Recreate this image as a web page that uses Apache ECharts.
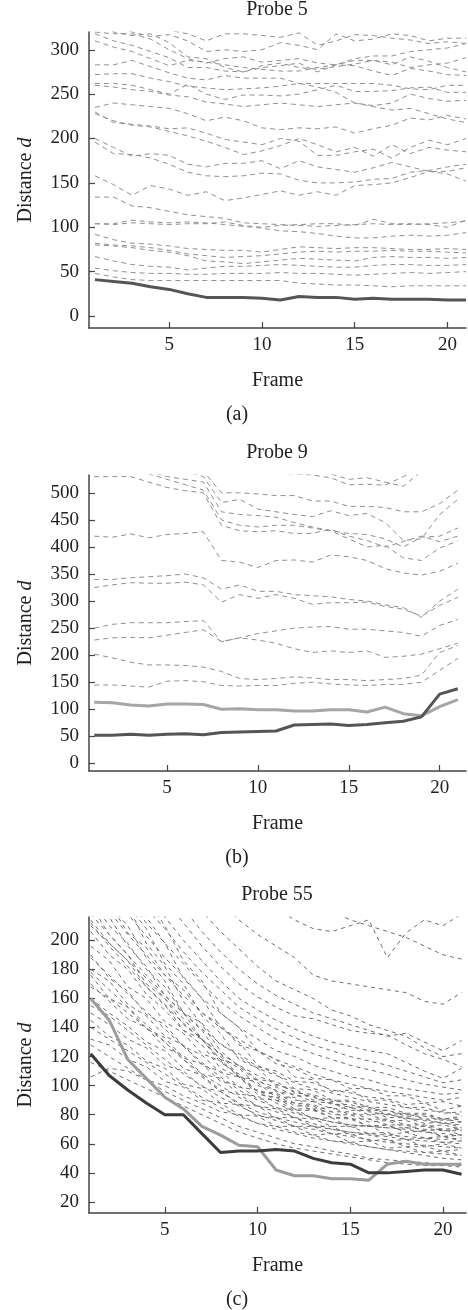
<!DOCTYPE html>
<html>
<head>
<meta charset="utf-8">
<script src="https://cdn.jsdelivr.net/npm/echarts@6/dist/echarts.min.js"></script>
<style>
html, body { margin: 0; padding: 0; background: #fff; }
#main { width: 468px; height: 1310px; }
</style>
</head>
<body>
<div id="main"></div>
<script>
// frames on the x axis, shared by the three probes
let frames = [1,2,3,4,5,6,7,8,9,10,11,12,13,14,15,16,17,18,19,20,21];

// ---- Probe 5 ----
let probe5Ticks = [0,50,100,150,200,250,300];
let probe5Best = [41,39,37,33,30,25,21,21,21,20,18,22,21,21,19,20,19,19,19,18,18];
let probe5Others = [
  [48,44,41,40,40,40,40,40,40,40,40,37,36,35,35,34,33,34,34,34,34],
  [54,51,49,48,48,47,47,48,48,48,49,48,48,47,46,47,48,49,48,49,50],
  [67,62,58,56,55,52,54,56,56,57,58,57,56,55,55,57,58,58,57,57,58],
  [80,79,77,74,72,68,62,61,59,61,63,65,64,63,62,66,67,66,66,65,66],
  [82,80,79,77,74,70,68,66,67,68,70,72,73,72,73,73,74,73,73,72,71],
  [92,86,82,81,79,76,75,74,74,72,75,78,77,76,77,77,76,75,75,76,75],
  [104,104,108,106,105,106,105,103,101,99,96,95,93,90,88,88,90,91,90,91,94],
  [104,103,105,104,103,104,104,106,102,100,102,103,104,104,102,109,104,104,103,100,108],
  [134,134,124,122,118,114,112,110,105,104,103,102,101,102,103,104,103,103,104,105,107],
  [158,148,136,147,143,136,140,130,133,137,141,136,140,136,147,148,150,156,163,160,152],
  [200,190,180,183,181,171,168,172,172,175,166,175,168,165,162,167,173,168,163,163,167],
  [196,183,182,178,171,162,158,157,158,161,160,153,150,150,151,154,155,162,164,168,171],
  [228,220,215,213,208,203,197,190,182,186,192,200,193,185,190,180,193,183,190,187,185],
  [235,240,238,236,234,228,220,224,220,212,210,212,211,213,206,211,215,223,221,226,222],
  [230,218,216,214,211,212,206,199,196,193,200,197,181,181,185,188,178,190,198,193,200],
  [260,258,255,253,249,247,241,239,236,238,240,238,236,238,240,236,232,234,228,222,218],
  [262,262,260,255,250,261,250,244,249,249,248,250,255,260,253,253,254,257,258,252,252],
  [272,273,273,268,264,259,257,255,256,257,259,262,258,252,240,237,240,250,245,242,243],
  [283,283,288,281,274,268,266,271,268,268,268,262,262,262,262,262,260,256,255,260,260],
  [310,303,298,290,282,288,286,283,280,278,276,276,280,283,282,276,271,279,276,272,271],
  [318,310,305,298,291,280,280,276,275,282,285,280,278,281,284,288,286,280,283,285,291],
  [320,318,318,312,300,290,285,290,292,286,288,290,285,283,290,293,293,298,300,302,307],
  [328,320,316,318,308,292,290,280,275,280,282,285,275,283,288,288,283,292,287,280,275],
  [330,325,320,315,317,310,298,300,298,300,308,305,300,318,310,312,318,316,310,313,313],
  [340,335,328,324,322,318,310,318,318,316,314,319,305,310,317,316,313,311,307,309,307]
];

// ---- Probe 9 ----
let probe9Ticks = [0,50,100,150,200,250,300,350,400,450,500];
let probe9Best = [52,52,54,52,54,55,53,57,58,59,60,71,72,73,70,72,75,78,86,128,138];
let probe9Second = [113,112,108,106,110,110,109,100,101,99,99,97,97,99,99,95,104,92,88,105,118];
let probe9Others = [
  [145,145,143,141,152,153,151,144,143,144,144,148,150,147,145,144,146,146,150,172,194],
  [202,195,187,182,182,181,178,170,157,155,157,160,158,155,155,153,155,157,163,205,218],
  [228,232,233,232,237,242,247,225,232,228,222,212,205,208,205,208,196,198,202,212,222],
  [250,257,260,260,260,262,264,225,232,240,245,250,252,253,248,248,245,242,235,255,266],
  [325,330,334,333,333,335,330,298,312,305,312,305,294,297,297,298,290,285,272,292,307],
  [340,340,343,345,347,350,343,322,330,318,318,312,310,308,303,300,293,288,270,300,322],
  [420,418,424,417,423,425,428,375,372,362,375,376,372,385,382,375,360,352,348,355,370],
  [530,530,530,520,510,504,500,440,430,428,430,425,425,433,420,412,400,410,420,410,420],
  [540,540,540,535,525,515,505,450,440,437,440,440,435,430,415,400,403,380,375,398,411],
  [550,550,545,540,530,525,520,465,460,458,455,445,437,430,425,423,415,400,418,420,435],
  [560,560,555,550,545,540,530,482,488,470,465,460,456,467,458,462,445,412,415,460,488],
  [570,570,565,560,555,550,540,500,500,498,495,495,485,485,475,475,473,465,465,480,505],
  [600,590,580,570,560,555,548,540,540,538,536,535,533,528,515,516,514,530,545,560,570],
  [620,610,600,590,580,570,560,560,555,550,545,540,538,535,525,528,520,512,540,560,580]
];

// ---- Probe 55 ----
let probe55Ticks = [20,40,60,80,100,120,140,160,180,200];
let probe55Best = [122,107,97,88,80,80,67,54,55,55,56,55,50,47,46,40,40,41,42,42,39];
let probe55Second = [160,145,118,105,92,84,72,66,59,58,42,38,38,36,36,35,46,48,46,46,46];
let probe55Others = [
  [228,210,198,180,168,150,143,128,122,113,110,103,102,97,95,92,91,87,88,83,86],
  [242,226,205,195,176,166,150,142,128,124,115,112,105,104,98,98,93,93,88,89,86],
  [206,190,180,163,152,138,132,118,114,104,103,95,94,89,89,84,83,79,79,76,77],
  [196,186,168,160,144,136,122,117,106,104,96,94,89,88,83,83,78,78,74,75,71],
  [190,174,165,149,142,127,121,109,106,96,95,88,87,82,82,77,77,73,73,70,71],
  [180,172,156,148,134,128,114,110,99,97,90,88,83,82,77,77,73,73,69,70,66],
  [176,160,154,139,133,119,115,103,100,91,90,83,83,78,77,72,73,68,69,65,66],
  [170,158,146,140,126,121,108,105,94,93,84,84,77,78,71,73,66,68,64,65,62],
  [160,150,141,130,124,112,107,97,94,86,84,78,77,72,72,67,68,63,64,61,62],
  [150,142,132,126,114,110,99,96,87,86,78,78,72,72,66,67,62,63,58,60,57],
  [145,134,128,117,112,101,98,88,87,79,78,72,72,67,67,62,63,58,58,55,56],
  [132,128,118,113,103,99,90,88,80,79,72,72,66,67,61,62,57,58,54,55,52],
  [106,112,110,104,100,93,88,82,80,74,72,68,66,62,61,58,56,54,52,50,49],
  [250,235,218,203,188,175,160,150,140,132,124,120,114,110,106,104,100,98,96,94,95],
  [262,245,228,212,198,184,170,158,148,140,132,127,122,118,114,111,108,104,101,99,97],
  [275,256,238,222,208,192,178,166,154,146,139,133,128,124,120,117,114,110,106,102,104],
  [290,270,250,234,216,200,186,172,160,152,145,139,134,130,127,124,122,116,110,105,112],
  [300,282,262,244,228,212,196,182,170,161,154,148,146,142,138,136,135,128,122,118,113],
  [320,296,274,256,238,222,206,192,180,170,162,156,150,146,142,138,134,136,130,124,131],
  [330,310,290,270,252,236,220,206,194,182,172,166,160,152,148,142,138,134,126,120,122],
  [350,330,310,292,274,256,240,226,214,204,196,188,176,172,170,168,166,164,158,156,164],
  [380,360,340,320,302,286,270,256,244,232,222,214,208,206,210,214,188,205,214,210,218],
  [400,380,360,340,320,305,290,278,266,254,244,234,226,220,214,210,206,202,196,190,187],
  [236,220,204,190,176,162,150,140,132,124,118,113,108,104,101,98,96,94,92,90,92],
  [218,204,190,176,162,150,139,129,120,112,107,102,98,95,92,89,87,85,83,82,80],
  [212,196,182,168,155,143,132,122,114,107,101,96,92,88,85,82,80,78,76,74,73],
  [168,160,150,140,130,118,108,100,92,86,82,78,74,70,68,66,65,63,62,61,60],
  [155,148,138,128,118,108,100,92,86,80,76,72,70,67,65,63,61,60,59,58,57],
  [140,132,124,116,108,100,92,85,79,74,70,67,64,62,60,58,56,55,54,53,52],
  [128,120,112,104,96,90,84,78,72,68,64,60,58,55,53,50,49,48,47,46,45],
  [178,166,154,142,130,118,106,96,88,82,78,75,72,70,68,67,66,65,64,63,64],
  [188,176,163,151,139,127,116,106,97,90,85,81,78,75,73,72,71,70,68,67,66],
  [210,198,186,174,160,146,132,118,106,96,88,82,78,75,73,72,71,71,70,69,70],
  [116,110,104,98,92,86,80,74,68,64,60,57,55,53,51,49,47,46,45,45,44],
  [260,238,224,198,182,158,142,124,113,103,99,93,93,87,87,83,83,80,80,77,79],
  [270,252,224,208,184,170,148,136,118,112,100,98,90,91,85,86,80,81,77,77,75],
  [245,224,210,188,172,150,138,120,112,100,97,90,89,84,85,80,81,77,77,74,75],
  [232,216,196,182,162,150,132,122,106,102,92,92,84,85,80,80,76,76,72,73,70],
  [286,260,242,216,198,174,160,140,130,114,108,98,97,90,90,85,85,81,81,77,78],
  [224,204,190,170,160,142,132,116,108,96,94,86,86,80,80,75,76,71,72,69,69],
  [300,274,254,228,210,186,172,150,140,124,118,106,104,96,97,90,90,85,85,81,82],
  [214,198,186,168,156,138,128,112,106,94,92,84,84,78,78,72,73,68,69,65,66]
];

let font = "'Liberation Serif', 'Times New Roman', serif";
let ink = '#222';

let panels = [
  { title: 'Probe 5', tag: '(a)', top: 32, xMin: 0.68, xMax: 21, yMin: -13.5, yMax: 320,
    ticks: probe5Ticks, others: probe5Others, solids: [[probe5Best, '#555']], dashColor: '#8f8f8f', dash: [5, 4] },
  { title: 'Probe 9', tag: '(b)', top: 475, xMin: 0.71, xMax: 21.45, yMin: -14, yMax: 533,
    ticks: probe9Ticks, others: probe9Others, solids: [[probe9Second, '#a6a6a6'], [probe9Best, '#555']], dashColor: '#8f8f8f', dash: [5, 4] },
  { title: 'Probe 55', tag: '(c)', top: 917, xMin: 0.91, xMax: 21.24, yMin: 12.4, yMax: 216,
    ticks: probe55Ticks, others: probe55Others, solids: [[probe55Second, '#9c9c9c'], [probe55Best, '#3c3c3c']], dashColor: '#6e6e6e', dash: [4, 4] }
];

let grids = [], xAxes = [], yAxes = [], series = [], graphics = [];
let toPoints = vals => frames.map((f, i) => [f, vals[i]]);

panels.forEach((p, k) => {
  grids.push({ left: 89, right: 2, top: p.top, height: 296 });
  xAxes.push({
    type: 'value', gridIndex: k, min: p.xMin, max: p.xMax,
    name: 'Frame', nameLocation: 'middle', nameGap: 43,
    nameTextStyle: { fontFamily: font, fontSize: 20, color: ink },
    axisLine: { onZero: false, lineStyle: { color: '#444', width: 1.5 } },
    axisTick: { inside: true, length: 6, customValues: [5,10,15,20], lineStyle: { color: '#444', width: 1.2 } },
    axisLabel: { customValues: [5,10,15,20], margin: 8, fontFamily: font, fontSize: 19, color: ink },
    splitLine: { show: false }
  });
  yAxes.push({
    type: 'value', gridIndex: k, min: p.yMin, max: p.yMax,
    name: '{n|Distance }{i|d}', nameLocation: 'middle', nameGap: 53, nameRotate: 90,
    nameTextStyle: { rich: {
      n: { fontFamily: font, fontSize: 20, color: ink },
      i: { fontFamily: font, fontSize: 20, color: ink, fontStyle: 'italic' }
    } },
    axisLine: { onZero: false, lineStyle: { color: '#444', width: 1.5 } },
    axisTick: { inside: true, length: 6, customValues: p.ticks, lineStyle: { color: '#444', width: 1.2 } },
    axisLabel: { customValues: p.ticks, margin: 10, fontFamily: font, fontSize: 19, color: ink },
    splitLine: { show: false }
  });
  p.others.forEach(vals => {
    series.push({
      type: 'line', xAxisIndex: k, yAxisIndex: k, data: toPoints(vals),
      symbol: 'none', silent: true,
      lineStyle: { color: p.dashColor, width: 1, type: p.dash }
    });
  });
  p.solids.forEach(s => {
    series.push({
      type: 'line', xAxisIndex: k, yAxisIndex: k, data: toPoints(s[0]),
      symbol: 'none', silent: true,
      lineStyle: { color: s[1], width: 3 }
    });
  });
  graphics.push({
    type: 'text', x: 277, y: p.top - 22,
    style: { text: p.title, font: '20px ' + font, fill: ink, align: 'center', verticalAlign: 'middle' }
  });
  graphics.push({
    type: 'text', x: 237, y: p.top + 383,
    style: { text: p.tag, font: '20px ' + font, fill: ink, align: 'center', verticalAlign: 'middle' }
  });
});

let myChart = echarts.init(document.getElementById('main'));
myChart.setOption({
  animation: false,
  backgroundColor: '#fff',
  grid: grids,
  xAxis: xAxes,
  yAxis: yAxes,
  series: series,
  graphic: graphics
});
</script>
</body>
</html>
